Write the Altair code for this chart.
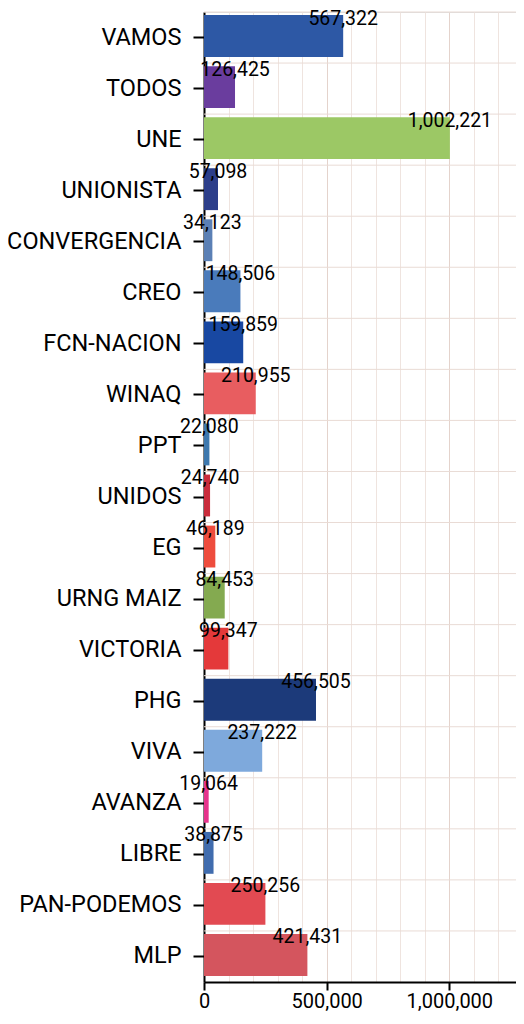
import altair as alt
import pandas as pd

parties = ["VAMOS", "TODOS", "UNE", "UNIONISTA", "CONVERGENCIA", "CREO",
           "FCN-NACION", "WINAQ", "PPT", "UNIDOS", "EG", "URNG MAIZ",
           "VICTORIA", "PHG", "VIVA", "AVANZA", "LIBRE", "PAN-PODEMOS", "MLP"]
votes = [567322, 126425, 1002221, 57098, 34123, 148506, 159859, 210955,
         22080, 24740, 46189, 84453, 99347, 456505, 237222, 19064, 38875,
         250256, 421431]
colors = ["#2d58a5", "#6a3d9e", "#9cc865", "#2c3e8a", "#5b80b5", "#4a7bbb",
          "#1848a2", "#e85d60", "#3d78ae", "#c92c3c", "#ee4c3d", "#84aa50",
          "#e4393a", "#1c3a7a", "#7ea9dc", "#e6338c", "#406cae", "#e24a52",
          "#d4555e"]
x_ticks = list(range(0, 1500001, 100000))

df = pd.DataFrame({"party": parties, "votes": votes, "color": colors})

W = 368
H = 970

y_axis = alt.Axis(title=None, labelFontSize=23.5, labelColor="#000000",
                  labelPadding=12, tickSize=11, tickWidth=2, tickColor="#000000",
                  domainColor="#000000", domainWidth=2, grid=False,
                  labelFont="Roboto")
y_scale = alt.Scale(paddingInner=0, paddingOuter=0)

x_axis = alt.Axis(
    title=None, values=x_ticks,
    labelExpr="datum.value % 500000 === 0 && datum.value < 1500000 ? format(datum.value, ',') : ''",
    labelFontSize=20, labelColor="#000000", labelFont="Roboto",
    labelPadding=1, labelFlush=False, labelOverlap=False,
    tickSize=8, tickWidth=2, tickColor="#000000",
    tickOpacity={"condition": {"test": "datum.value % 500000 !== 0", "value": 0}, "value": 1},
    domainColor="#000000", domainWidth=2,
    grid=True, gridWidth=1,
    gridColor={"condition": {"test": "datum.value % 500000 === 0", "value": "#e4d3cc"}, "value": "#efe4df"},
)
x_scale = alt.Scale(domain=[0, 1500000], nice=False)

base = alt.Chart(df)

hgrid = base.mark_rule(color="#e9dbd5", strokeWidth=1).encode(
    y=alt.Y("party:N", sort=parties, bandPosition=0, scale=y_scale, axis=y_axis),
    x=alt.value(0),
    x2=alt.value(W),
)

bars = base.mark_bar(height={"band": 0.82}, yOffset=-1.5).encode(
    y=alt.Y("party:N", sort=parties, scale=y_scale, axis=y_axis),
    x=alt.X("votes:Q", scale=x_scale, axis=x_axis),
    color=alt.Color("color:N", scale=None, legend=None),
)

labels = base.mark_text(baseline="alphabetic", align="center", dy=-13,
                        fontSize=19.5, font="Roboto", color="#000000").encode(
    y=alt.Y("party:N", sort=parties, scale=y_scale, axis=y_axis),
    x=alt.X("votes:Q", scale=x_scale, axis=x_axis),
    text=alt.Text("votes:Q", format=","),
)

chart = alt.layer(hgrid, bars, labels).properties(
    width=W, height=H,
    autosize=alt.AutoSizeParams(type="none"),
    padding={"left": 196, "top": 4, "right": -56, "bottom": 34},
).configure_view(stroke=None).configure(background="white")

chart.save("out.html", embed_options={"renderer": "svg", "actions": False})
